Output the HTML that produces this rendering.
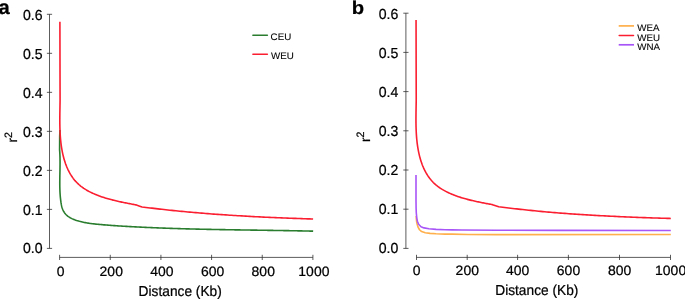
<!DOCTYPE html>
<html><head><meta charset="utf-8"><title>LD decay</title>
<style>
html,body{margin:0;padding:0;background:#fff;}
svg{display:block;}
text{font-family:"Liberation Sans",Arial,Helvetica,sans-serif;fill:#000;stroke:#000;stroke-width:0.22px;}
.tk{font-size:13.6px;}
.ttl{font-size:13.75px;}
.lg{font-size:9.8px;stroke-width:0.1px;}
.pl{font-size:18.6px;font-weight:bold;fill:#000;stroke:#000;stroke-width:0.22px;}
.cv{fill:none;stroke-width:1.6;stroke-linecap:butt;stroke-linejoin:round;}
.lgl{fill:none;stroke-width:1.5;stroke-linecap:round;}
</style></head>
<body>
<svg width="685" height="299" viewBox="0 0 685 299">
<rect x="0" y="0" width="685" height="299" fill="#fff"/>
<path d="M49.5,14.3 V248.4" stroke="#333" stroke-width="0.8" fill="none"/>
<path d="M46.9,248.40 H52.1" stroke="#333" stroke-width="0.8" fill="none"/>
<text transform="translate(42.60,253.40) matrix(1.04,0,0.004,1.07,0,0)" text-anchor="end" class="tk">0.0</text>
<path d="M46.9,209.38 H52.1" stroke="#333" stroke-width="0.8" fill="none"/>
<text transform="translate(42.60,214.55) matrix(1.04,0,0.004,1.07,0,0)" text-anchor="end" class="tk">0.1</text>
<path d="M46.9,170.37 H52.1" stroke="#333" stroke-width="0.8" fill="none"/>
<text transform="translate(42.60,175.70) matrix(1.04,0,0.004,1.07,0,0)" text-anchor="end" class="tk">0.2</text>
<path d="M46.9,131.35 H52.1" stroke="#333" stroke-width="0.8" fill="none"/>
<text transform="translate(42.60,136.85) matrix(1.04,0,0.004,1.07,0,0)" text-anchor="end" class="tk">0.3</text>
<path d="M46.9,92.33 H52.1" stroke="#333" stroke-width="0.8" fill="none"/>
<text transform="translate(42.60,98.00) matrix(1.04,0,0.004,1.07,0,0)" text-anchor="end" class="tk">0.4</text>
<path d="M46.9,53.32 H52.1" stroke="#333" stroke-width="0.8" fill="none"/>
<text transform="translate(42.60,59.15) matrix(1.04,0,0.004,1.07,0,0)" text-anchor="end" class="tk">0.5</text>
<path d="M46.9,14.30 H52.1" stroke="#333" stroke-width="0.8" fill="none"/>
<text transform="translate(42.60,20.30) matrix(1.04,0,0.004,1.07,0,0)" text-anchor="end" class="tk">0.6</text>
<path d="M59.6,257.4 H312.9" stroke="#333" stroke-width="0.8" fill="none"/>
<path d="M59.60,254.79999999999998 V260.0" stroke="#333" stroke-width="0.8" fill="none"/>
<text transform="translate(60.60,275.80) matrix(1.03,0,0.004,1.0,0,0)" text-anchor="middle" class="tk">0</text>
<path d="M110.26,254.79999999999998 V260.0" stroke="#333" stroke-width="0.8" fill="none"/>
<text transform="translate(111.26,275.80) matrix(1.03,0,0.004,1.0,0,0)" text-anchor="middle" class="tk">200</text>
<path d="M160.92,254.79999999999998 V260.0" stroke="#333" stroke-width="0.8" fill="none"/>
<text transform="translate(161.92,275.80) matrix(1.03,0,0.004,1.0,0,0)" text-anchor="middle" class="tk">400</text>
<path d="M211.58,254.79999999999998 V260.0" stroke="#333" stroke-width="0.8" fill="none"/>
<text transform="translate(212.58,275.80) matrix(1.03,0,0.004,1.0,0,0)" text-anchor="middle" class="tk">600</text>
<path d="M262.24,254.79999999999998 V260.0" stroke="#333" stroke-width="0.8" fill="none"/>
<text transform="translate(263.24,275.80) matrix(1.03,0,0.004,1.0,0,0)" text-anchor="middle" class="tk">800</text>
<path d="M312.90,254.79999999999998 V260.0" stroke="#333" stroke-width="0.8" fill="none"/>
<text transform="translate(313.90,275.80) matrix(1.03,0,0.004,1.0,0,0)" text-anchor="middle" class="tk">1000</text>
<text transform="translate(180.20,295.50) matrix(1.0,0,0.004,1.05,0,0)" text-anchor="middle" class="ttl">Distance (Kb)</text>
<path d="M405.9,13.2 V248.4" stroke="#333" stroke-width="0.8" fill="none"/>
<path d="M403.29999999999995,248.40 H408.5" stroke="#333" stroke-width="0.8" fill="none"/>
<text transform="translate(398.40,253.40) matrix(1.04,0,0.004,1.07,0,0)" text-anchor="end" class="tk">0.0</text>
<path d="M403.29999999999995,209.20 H408.5" stroke="#333" stroke-width="0.8" fill="none"/>
<text transform="translate(398.40,214.35) matrix(1.04,0,0.004,1.07,0,0)" text-anchor="end" class="tk">0.1</text>
<path d="M403.29999999999995,170.00 H408.5" stroke="#333" stroke-width="0.8" fill="none"/>
<text transform="translate(398.40,175.30) matrix(1.04,0,0.004,1.07,0,0)" text-anchor="end" class="tk">0.2</text>
<path d="M403.29999999999995,130.80 H408.5" stroke="#333" stroke-width="0.8" fill="none"/>
<text transform="translate(398.40,136.25) matrix(1.04,0,0.004,1.07,0,0)" text-anchor="end" class="tk">0.3</text>
<path d="M403.29999999999995,91.60 H408.5" stroke="#333" stroke-width="0.8" fill="none"/>
<text transform="translate(398.40,97.20) matrix(1.04,0,0.004,1.07,0,0)" text-anchor="end" class="tk">0.4</text>
<path d="M403.29999999999995,52.40 H408.5" stroke="#333" stroke-width="0.8" fill="none"/>
<text transform="translate(398.40,58.15) matrix(1.04,0,0.004,1.07,0,0)" text-anchor="end" class="tk">0.5</text>
<path d="M403.29999999999995,13.20 H408.5" stroke="#333" stroke-width="0.8" fill="none"/>
<text transform="translate(398.40,19.10) matrix(1.04,0,0.004,1.07,0,0)" text-anchor="end" class="tk">0.6</text>
<path d="M416.5,257.4 H670.5" stroke="#333" stroke-width="0.8" fill="none"/>
<path d="M416.50,254.79999999999998 V260.0" stroke="#333" stroke-width="0.8" fill="none"/>
<text transform="translate(416.60,275.40) matrix(1.03,0,0.004,1.0,0,0)" text-anchor="middle" class="tk">0</text>
<path d="M467.20,254.79999999999998 V260.0" stroke="#333" stroke-width="0.8" fill="none"/>
<text transform="translate(467.30,275.40) matrix(1.03,0,0.004,1.0,0,0)" text-anchor="middle" class="tk">200</text>
<path d="M517.60,254.79999999999998 V260.0" stroke="#333" stroke-width="0.8" fill="none"/>
<text transform="translate(517.70,275.40) matrix(1.03,0,0.004,1.0,0,0)" text-anchor="middle" class="tk">400</text>
<path d="M568.40,254.79999999999998 V260.0" stroke="#333" stroke-width="0.8" fill="none"/>
<text transform="translate(568.50,275.40) matrix(1.03,0,0.004,1.0,0,0)" text-anchor="middle" class="tk">600</text>
<path d="M619.50,254.79999999999998 V260.0" stroke="#333" stroke-width="0.8" fill="none"/>
<text transform="translate(619.60,275.40) matrix(1.03,0,0.004,1.0,0,0)" text-anchor="middle" class="tk">800</text>
<path d="M670.50,254.79999999999998 V260.0" stroke="#333" stroke-width="0.8" fill="none"/>
<text transform="translate(670.60,275.40) matrix(1.03,0,0.004,1.0,0,0)" text-anchor="middle" class="tk">1000</text>
<text transform="translate(536.80,294.70) matrix(1.0,0,0.004,1.05,0,0)" text-anchor="middle" class="ttl">Distance (Kb)</text>
<path d="M59.95,130.00 L59.70,136.00 L59.60,149.99 L59.68,151.00 L59.75,152.01 L59.81,153.02 L59.86,154.02 L59.90,155.03 L59.94,156.03 L59.97,157.04 L60.00,158.04 L60.01,159.04 L60.03,160.04 L60.04,161.04 L60.04,162.04 L60.04,163.04 L60.04,164.04 L60.03,165.04 L60.03,166.04 L60.01,167.04 L60.00,168.03 L59.98,169.03 L59.97,170.03 L59.95,171.03 L59.93,172.02 L59.91,173.02 L59.89,174.01 L59.87,175.01 L59.85,176.01 L59.84,177.00 L59.82,178.00 L59.81,178.99 L59.80,179.99 L59.79,180.98 L59.78,181.98 L59.78,182.97 L59.78,183.97 L59.79,184.97 L59.80,185.96 L59.81,186.96 L59.84,187.96 L59.86,188.95 L59.90,189.95 L59.93,190.95 L59.98,191.94 L60.03,192.94 L60.10,193.94 L60.17,194.94 L60.24,195.94 L60.33,196.94 L60.42,197.94 L60.53,198.94 L60.64,199.95 L60.77,200.95 L60.91,201.95 L61.05,202.96 L61.22,203.96 L61.40,204.95 L61.61,205.94 L61.85,206.92 L62.13,207.89 L62.46,208.83 L62.82,209.76 L63.24,210.67 L63.72,211.55 L64.26,212.40 L64.84,213.22 L65.48,213.99 L66.17,214.72 L66.90,215.40 L67.66,216.04 L68.47,216.63 L69.30,217.18 L70.16,217.69 L71.04,218.17 L71.94,218.61 L72.86,219.03 L73.79,219.42 L74.73,219.79 L75.67,220.13 L76.61,220.46 L77.56,220.76 L78.51,221.05 L79.46,221.33 L80.41,221.58 L81.37,221.82 L82.33,222.05 L83.29,222.26 L84.25,222.46 L85.21,222.65 L86.18,222.82 L87.15,222.99 L88.12,223.14 L89.09,223.29 L90.07,223.42 L91.04,223.55 L92.02,223.67 L93.00,223.79 L93.98,223.89 L94.96,224.00 L95.95,224.10 L96.93,224.20 L97.92,224.29 L98.91,224.39 L99.90,224.48 L100.89,224.57 L101.88,224.65 L102.87,224.74 L103.87,224.83 L104.86,224.91 L105.86,224.99 L106.86,225.07 L107.86,225.15 L108.86,225.23 L109.86,225.30 L110.86,225.38 L111.86,225.45 L112.86,225.52 L113.86,225.59 L114.87,225.66 L115.87,225.73 L116.88,225.80 L117.88,225.87 L118.89,225.93 L119.90,226.00 L120.90,226.06 L121.91,226.12 L122.92,226.18 L123.92,226.24 L124.93,226.30 L125.94,226.36 L126.94,226.42 L127.95,226.48 L128.96,226.53 L129.97,226.59 L130.97,226.64 L131.98,226.70 L132.99,226.75 L133.99,226.80 L135.00,226.86 L136.00,226.91 L137.01,226.96 L138.01,227.01 L139.02,227.06 L140.02,227.11 L141.03,227.16 L142.03,227.21 L143.04,227.25 L144.04,227.30 L145.05,227.35 L146.05,227.39 L147.05,227.44 L148.06,227.48 L149.06,227.53 L150.06,227.57 L151.06,227.61 L152.07,227.66 L153.07,227.70 L154.07,227.74 L155.07,227.78 L156.07,227.82 L157.08,227.86 L158.08,227.90 L159.08,227.94 L160.08,227.98 L161.08,228.02 L162.08,228.06 L163.08,228.09 L164.08,228.13 L165.08,228.17 L166.08,228.20 L167.08,228.24 L168.08,228.27 L169.08,228.31 L170.08,228.34 L171.08,228.37 L172.08,228.41 L173.08,228.44 L174.08,228.47 L175.08,228.50 L176.08,228.53 L177.08,228.56 L178.08,228.59 L179.07,228.63 L180.07,228.65 L181.07,228.68 L182.07,228.71 L183.07,228.74 L184.07,228.77 L185.06,228.80 L186.06,228.83 L187.06,228.85 L188.06,228.88 L189.06,228.91 L190.05,228.93 L191.05,228.96 L192.05,228.98 L193.04,229.01 L194.04,229.03 L195.04,229.06 L196.04,229.08 L197.03,229.11 L198.03,229.13 L199.03,229.15 L200.02,229.18 L201.02,229.20 L202.02,229.22 L203.01,229.24 L204.01,229.26 L205.01,229.29 L206.00,229.31 L207.00,229.33 L208.00,229.35 L208.99,229.37 L209.99,229.39 L210.99,229.41 L211.98,229.43 L212.98,229.45 L213.98,229.47 L214.97,229.49 L215.97,229.51 L216.97,229.53 L217.96,229.55 L218.96,229.56 L219.95,229.58 L220.95,229.60 L221.95,229.62 L222.94,229.64 L223.94,229.65 L224.94,229.67 L225.93,229.69 L226.93,229.71 L227.92,229.72 L228.92,229.74 L229.92,229.76 L230.91,229.77 L231.91,229.79 L232.91,229.80 L233.90,229.82 L234.90,229.84 L235.90,229.85 L236.89,229.87 L237.89,229.88 L238.89,229.90 L239.88,229.92 L240.88,229.93 L241.88,229.95 L242.87,229.96 L243.87,229.98 L244.87,229.99 L245.87,230.01 L246.86,230.02 L247.86,230.04 L248.86,230.05 L249.86,230.07 L250.85,230.08 L251.85,230.10 L252.85,230.11 L253.85,230.13 L254.84,230.14 L255.84,230.16 L256.84,230.17 L257.84,230.19 L258.84,230.20 L259.84,230.22 L260.83,230.23 L261.83,230.25 L262.83,230.26 L263.83,230.28 L264.83,230.29 L265.83,230.31 L266.83,230.32 L267.83,230.34 L268.83,230.35 L269.83,230.37 L270.83,230.38 L271.83,230.40 L272.83,230.41 L273.83,230.43 L274.83,230.44 L275.83,230.46 L276.83,230.47 L277.83,230.49 L278.83,230.51 L279.83,230.52 L280.83,230.54 L281.83,230.56 L282.83,230.57 L283.83,230.59 L284.84,230.61 L285.84,230.62 L286.84,230.64 L287.84,230.66 L288.85,230.67 L289.85,230.69 L290.85,230.71 L291.85,230.73 L292.86,230.75 L293.86,230.76 L294.87,230.78 L295.87,230.80 L296.87,230.82 L297.88,230.84 L298.88,230.86 L299.89,230.88 L300.89,230.90 L301.90,230.92 L302.90,230.94 L303.91,230.96 L304.91,230.98 L305.92,231.00 L306.93,231.02 L307.93,231.04 L308.94,231.06 L309.95,231.09 L310.95,231.11 L311.96,231.13 L312.97,231.15 L313.14,231.16" stroke="#2a7d2e" class="cv"/>
<path d="M59.90,21.70 L60.08,100.18 L60.07,101.11 L60.05,102.04 L60.04,102.98 L60.02,103.92 L60.01,104.87 L59.99,105.83 L59.97,106.79 L59.96,107.75 L59.94,108.72 L59.92,109.69 L59.91,110.67 L59.89,111.65 L59.87,112.64 L59.86,113.63 L59.85,114.62 L59.84,115.61 L59.83,116.61 L59.82,117.61 L59.82,118.62 L59.81,119.62 L59.81,120.63 L59.82,121.64 L59.82,122.66 L59.83,123.67 L59.85,124.69 L59.86,125.71 L59.88,126.72 L59.91,127.74 L59.94,128.77 L59.97,129.79 L60.01,130.81 L60.06,131.83 L60.11,132.86 L60.16,133.88 L60.23,134.90 L60.29,135.93 L60.37,136.95 L60.45,137.97 L60.54,138.99 L60.63,140.01 L60.73,141.03 L60.84,142.05 L60.96,143.06 L61.08,144.07 L61.21,145.09 L61.35,146.10 L61.50,147.10 L61.66,148.11 L61.83,149.11 L62.00,150.11 L62.19,151.11 L62.38,152.10 L62.59,153.09 L62.80,154.07 L63.03,155.06 L63.26,156.03 L63.51,157.01 L63.77,157.98 L64.03,158.95 L64.31,159.91 L64.61,160.86 L64.91,161.81 L65.23,162.76 L65.55,163.70 L65.89,164.63 L66.25,165.56 L66.61,166.48 L66.99,167.39 L67.39,168.29 L67.79,169.19 L68.21,170.08 L68.65,170.96 L69.10,171.82 L69.56,172.68 L70.04,173.53 L70.53,174.37 L71.04,175.20 L71.56,176.01 L72.10,176.82 L72.66,177.61 L73.23,178.39 L73.82,179.15 L74.42,179.90 L75.04,180.64 L75.68,181.37 L76.34,182.08 L77.01,182.77 L77.70,183.45 L78.41,184.11 L79.13,184.76 L79.88,185.39 L80.63,186.01 L81.41,186.62 L82.20,187.20 L83.00,187.78 L83.82,188.34 L84.65,188.88 L85.49,189.42 L86.35,189.94 L87.22,190.44 L88.09,190.93 L88.98,191.42 L89.88,191.88 L90.79,192.34 L91.70,192.79 L92.62,193.22 L93.56,193.64 L94.49,194.05 L95.44,194.45 L96.39,194.84 L97.34,195.22 L98.30,195.59 L99.26,195.95 L100.23,196.30 L101.20,196.64 L102.17,196.97 L103.14,197.30 L104.11,197.61 L105.09,197.92 L106.06,198.21 L107.04,198.50 L108.02,198.79 L108.99,199.06 L109.97,199.33 L110.95,199.59 L111.93,199.85 L112.91,200.10 L113.89,200.34 L114.86,200.58 L115.84,200.81 L116.82,201.04 L117.79,201.26 L118.77,201.48 L119.74,201.69 L120.72,201.90 L121.69,202.11 L122.66,202.31 L123.62,202.50 L124.59,202.70 L125.55,202.89 L126.52,203.08 L127.47,203.26 L128.43,203.45 L129.39,203.63 L130.34,203.81 L131.28,203.99 L132.23,204.17 L133.17,204.35 L134.11,204.52 L135.04,204.70 L135.82,204.84 L139.00,205.90 L142.05,206.93 L144.03,207.18 L146.02,207.43 L148.00,207.68 L149.99,207.92 L151.97,208.16 L153.96,208.40 L155.95,208.64 L157.93,208.87 L159.92,209.09 L161.91,209.32 L163.89,209.54 L165.88,209.76 L167.87,209.97 L169.86,210.18 L171.85,210.39 L173.84,210.59 L175.83,210.79 L177.82,210.99 L179.81,211.19 L181.80,211.38 L183.79,211.57 L185.78,211.76 L187.77,211.94 L189.76,212.12 L191.75,212.30 L193.75,212.48 L195.74,212.65 L197.73,212.82 L199.72,212.99 L201.72,213.15 L203.71,213.31 L205.70,213.47 L207.70,213.63 L209.69,213.78 L211.68,213.93 L213.68,214.08 L215.67,214.23 L217.67,214.37 L219.66,214.51 L221.66,214.65 L223.65,214.79 L225.65,214.92 L227.64,215.06 L229.64,215.19 L231.63,215.32 L233.63,215.44 L235.63,215.56 L237.62,215.69 L239.62,215.80 L241.62,215.92 L243.61,216.04 L245.61,216.15 L247.61,216.26 L249.60,216.37 L251.60,216.48 L253.60,216.58 L255.60,216.69 L257.59,216.79 L259.59,216.89 L261.59,216.99 L263.59,217.08 L265.58,217.18 L267.58,217.27 L269.58,217.36 L271.58,217.45 L273.58,217.54 L275.57,217.63 L277.57,217.71 L279.57,217.80 L281.57,217.88 L283.57,217.96 L285.57,218.04 L287.57,218.12 L289.56,218.19 L291.56,218.27 L293.56,218.34 L295.56,218.42 L297.56,218.49 L299.56,218.56 L301.56,218.63 L303.55,218.69 L305.55,218.76 L307.55,218.83 L309.55,218.89 L311.55,218.96 L313.10,219.01" stroke="#fa1e30" class="cv"/>
<path d="M416.20,216.00 L416.30,218.50 L416.60,221.50 L417.10,224.00 L418.00,227.00 L419.50,229.75 L421.60,231.55 L425.25,232.75 L430.10,233.40 L436.10,233.80 L445.10,234.10 L452.00,234.15 L468.20,234.45 L497.00,234.60 L670.80,234.50" stroke="#ffaf4b" class="cv"/>
<path d="M416.05,20.00 L416.23,99.48 L416.22,100.41 L416.20,101.35 L416.19,102.30 L416.17,103.25 L416.16,104.20 L416.14,105.16 L416.12,106.12 L416.11,107.09 L416.09,108.06 L416.07,109.04 L416.06,110.02 L416.04,111.01 L416.02,112.00 L416.01,112.99 L416.00,113.99 L415.99,114.99 L415.98,115.99 L415.97,117.00 L415.97,118.01 L415.96,119.02 L415.96,120.03 L415.97,121.05 L415.97,122.07 L415.98,123.08 L416.00,124.11 L416.01,125.13 L416.03,126.15 L416.06,127.18 L416.09,128.20 L416.13,129.23 L416.16,130.26 L416.21,131.29 L416.26,132.31 L416.32,133.34 L416.38,134.37 L416.45,135.40 L416.52,136.42 L416.60,137.45 L416.69,138.48 L416.78,139.50 L416.89,140.52 L417.00,141.55 L417.11,142.57 L417.24,143.58 L417.37,144.60 L417.51,145.61 L417.66,146.63 L417.82,147.64 L417.99,148.64 L418.16,149.65 L418.35,150.65 L418.55,151.65 L418.75,152.64 L418.97,153.63 L419.20,154.62 L419.43,155.60 L419.68,156.58 L419.94,157.55 L420.21,158.52 L420.49,159.49 L420.79,160.45 L421.09,161.41 L421.41,162.36 L421.74,163.30 L422.08,164.24 L422.44,165.17 L422.80,166.09 L423.19,167.01 L423.58,167.92 L423.99,168.82 L424.41,169.71 L424.85,170.59 L425.30,171.46 L425.77,172.33 L426.25,173.18 L426.75,174.02 L427.26,174.85 L427.78,175.67 L428.33,176.48 L428.89,177.27 L429.46,178.06 L430.05,178.83 L430.66,179.58 L431.29,180.32 L431.93,181.05 L432.59,181.76 L433.26,182.46 L433.96,183.15 L434.67,183.81 L435.40,184.46 L436.15,185.10 L436.91,185.72 L437.69,186.32 L438.48,186.92 L439.29,187.49 L440.12,188.05 L440.95,188.60 L441.80,189.14 L442.66,189.66 L443.53,190.17 L444.42,190.66 L445.31,191.15 L446.21,191.62 L447.12,192.08 L448.05,192.52 L448.98,192.96 L449.91,193.38 L450.85,193.80 L451.80,194.20 L452.76,194.59 L453.72,194.97 L454.68,195.34 L455.65,195.70 L456.62,196.05 L457.60,196.40 L458.57,196.73 L459.55,197.06 L460.53,197.37 L461.51,197.68 L462.49,197.98 L463.48,198.27 L464.46,198.55 L465.44,198.83 L466.43,199.10 L467.41,199.37 L468.40,199.62 L469.38,199.87 L470.37,200.12 L471.35,200.36 L472.33,200.59 L473.32,200.82 L474.30,201.04 L475.28,201.26 L476.26,201.47 L477.24,201.68 L478.22,201.89 L479.19,202.09 L480.16,202.29 L481.14,202.48 L482.11,202.68 L483.07,202.87 L484.04,203.05 L485.00,203.24 L485.96,203.42 L486.92,203.60 L487.87,203.78 L488.82,203.96 L489.77,204.14 L490.71,204.32 L491.65,204.49 L492.44,204.64 L495.63,205.70 L498.70,206.73 L500.70,206.99 L502.70,207.24 L504.69,207.49 L506.69,207.73 L508.69,207.98 L510.69,208.21 L512.68,208.45 L514.68,208.68 L516.68,208.91 L518.68,209.13 L520.68,209.36 L522.68,209.57 L524.68,209.79 L526.68,210.00 L528.68,210.21 L530.69,210.42 L532.69,210.62 L534.69,210.82 L536.69,211.01 L538.69,211.21 L540.70,211.40 L542.70,211.58 L544.70,211.76 L546.71,211.93 L548.71,212.10 L550.71,212.27 L552.72,212.44 L554.72,212.61 L556.73,212.77 L558.73,212.93 L560.74,213.08 L562.74,213.24 L564.75,213.39 L566.76,213.54 L568.76,213.68 L570.77,213.83 L572.78,213.97 L574.78,214.11 L576.79,214.24 L578.80,214.38 L580.80,214.51 L582.81,214.64 L584.82,214.76 L586.83,214.89 L588.84,215.01 L590.84,215.13 L592.85,215.25 L594.86,215.36 L596.87,215.48 L598.88,215.59 L600.89,215.70 L602.90,215.81 L604.91,215.91 L606.91,216.01 L608.92,216.12 L610.93,216.22 L612.94,216.31 L614.95,216.41 L616.96,216.50 L618.97,216.60 L620.98,216.69 L622.99,216.78 L625.00,216.86 L627.01,216.95 L629.02,217.03 L631.03,217.12 L633.05,217.20 L635.06,217.28 L637.07,217.35 L639.08,217.43 L641.09,217.50 L643.10,217.58 L645.11,217.65 L647.12,217.72 L649.13,217.79 L651.14,217.86 L653.15,217.93 L655.16,217.99 L657.17,218.06 L659.19,218.12 L661.20,218.18 L663.21,218.24 L665.22,218.30 L667.23,218.36 L669.24,218.42 L670.80,218.47" stroke="#fa1e30" class="cv"/>
<path d="M416.00,174.90 L416.00,200.00 L416.10,208.00 L416.30,213.00 L416.80,218.10 L417.40,221.20 L418.60,224.30 L421.00,226.70 L424.05,227.90 L428.90,228.80 L436.10,229.40 L445.10,229.75 L452.00,229.85 L461.80,229.95 L497.00,230.30 L560.00,230.40 L670.80,230.50" stroke="#a855f7" class="cv"/>
<path d="M252.9,35.3 H267.4" stroke="#2a7d2e" class="lgl"/>
<path d="M252.9,54.3 H267.4" stroke="#fa1e30" class="lgl"/>
<text transform="translate(270.60,39.90) matrix(1.0,0,0.004,0.97,0,0)" class="lg">CEU</text>
<text transform="translate(271.00,58.90) matrix(1.0,0,0.004,0.97,0,0)" class="lg">WEU</text>
<path d="M618.7,25.9 H634" stroke="#ffaf4b" stroke-width="1.7" fill="none"/>
<path d="M619.2,35.45 H633.5" stroke="#fa1e30" class="lgl"/>
<path d="M618.7,44.8 H634" stroke="#a855f7" stroke-width="1.7" fill="none"/>
<text transform="translate(637.30,30.80) matrix(1.0,0,0.004,0.97,0,0)" class="lg">WEA</text>
<text transform="translate(637.30,40.50) matrix(1.0,0,0.004,0.97,0,0)" class="lg">WEU</text>
<text transform="translate(637.30,50.00) matrix(1.0,0,0.004,0.97,0,0)" class="lg">WNA</text>
<text transform="translate(-1.50,13.60) matrix(1.09,0,0.004,1.07,0,0)" class="pl">a</text>
<text transform="translate(351.70,14.10) matrix(1.09,0,0.004,1.0,0,0)" class="pl">b</text>
<g transform="translate(17.4,142.6) rotate(-90)"><text transform="matrix(1,0,0.004,1.0,0,0)" class="tk">r<tspan dy="-5.5" font-size="10.7">2</tspan></text></g>
<g transform="translate(369.75,141.95) rotate(-90)"><text transform="matrix(1,0,0.004,1.0,0,0)" class="tk">r<tspan dy="-5.5" font-size="10.7">2</tspan></text></g>
</svg>
</body></html>
